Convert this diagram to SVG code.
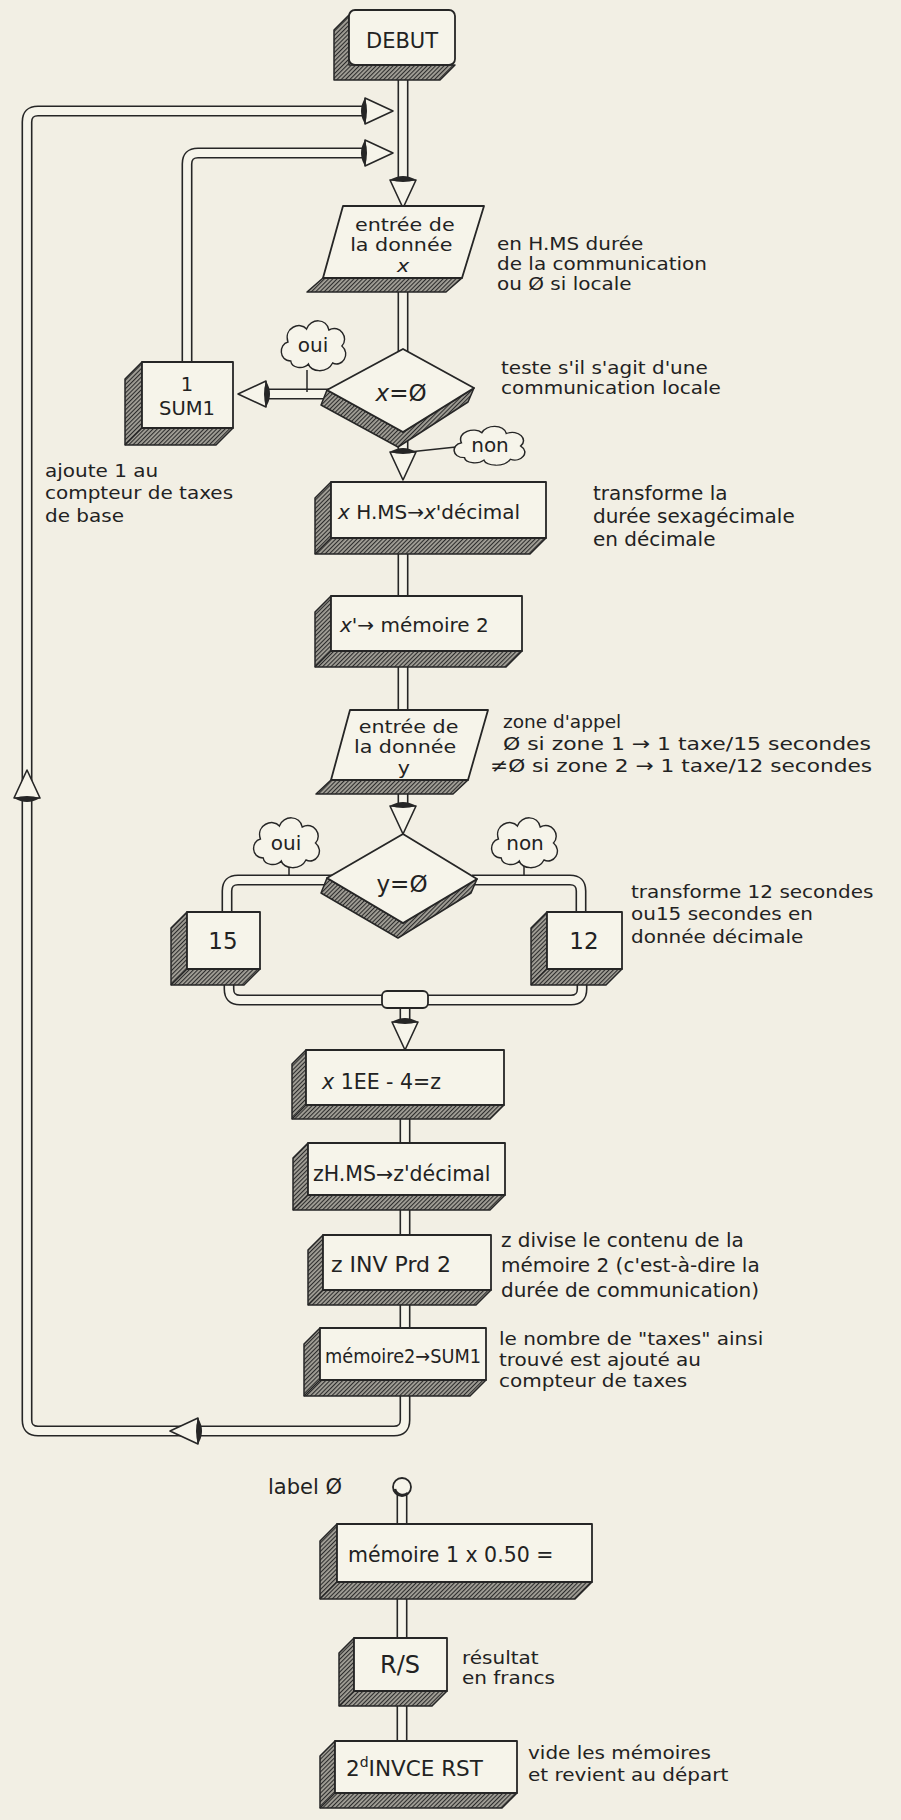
<svg xmlns="http://www.w3.org/2000/svg" xmlns:xlink="http://www.w3.org/1999/xlink" width="901" height="1820" viewBox="0 0 901 1820">
  <defs>
    <style>
      .face{fill:#f6f4ea;stroke:#262626;stroke-width:1.8;stroke-linejoin:round}
      .shade{fill:url(#hatch);stroke:#262626;stroke-width:1.5;stroke-linejoin:round}
      .edge{stroke:#262626;stroke-width:1.2;fill:none}
      .po{stroke:#262626;stroke-width:11;fill:none;stroke-linejoin:round}
      .pi{stroke:#f6f4ea;stroke-width:7.8;fill:none;stroke-linejoin:round}
      .stem{stroke:#262626;stroke-width:1.5;fill:none}
      .cloud{fill:#f6f4ea;stroke:#262626;stroke-width:1.5}
      .t{font-family:"DejaVu Sans","Liberation Sans",sans-serif;fill:#222}
      .c{text-anchor:middle}
    </style>
    <pattern id="hatch" patternUnits="userSpaceOnUse" width="3" height="3" patternTransform="rotate(45)">
      <rect width="3" height="3" fill="#a3a098"/>
      <line x1="0.5" y1="0" x2="0.5" y2="3" stroke="#2c2c2c" stroke-width="1.2"/>
    </pattern>
    <!-- cone arrowhead pointing along +x, base at origin -->
    <g id="cone">
      <path d="M0,-13 L28,0 L0,13 Z" fill="#f6f4ea" stroke="#262626" stroke-width="1.6" stroke-linejoin="round"/>
      <path d="M0,-13 Q-8,0 0,13 Q4,0 0,-13 Z" fill="#262626"/>
    </g>
    <path id="cloudShape" d="M-25,15 C-38,15 -38,-2 -28,-4 C-33,-18 -15,-25 -8,-17 C-4,-28 14,-28 16,-16 C28,-22 38,-8 30,0 C40,8 30,22 20,17 C14,28 -4,26 -6,18 C-12,24 -24,22 -25,15 Z"/>
  </defs>

  <rect width="901" height="1820" fill="#f2efe4"/>

  <!-- connectors: dark outer stroke, light inner stroke = hollow pipe -->
  <g id="connectors">
    <g class="po">
      <path d="M403,60 V190"/>
      <path d="M403,285 V352"/>
      <path d="M403,430 V462"/>
      <path d="M403,548 V599"/>
      <path d="M403,660 V713"/>
      <path d="M403,790 V816"/>
      <path d="M332,880 H238 Q227,880 227,891 V915"/>
      <path d="M472,880 H570 Q581,880 581,891 V915"/>
      <path d="M229,975 V989 Q229,1000 240,1000 H390"/>
      <path d="M582,975 V989 Q582,1000 571,1000 H420"/>
      <path d="M405,1005 V1028"/>
      <path d="M405,1110 V1146"/>
      <path d="M405,1205 V1238"/>
      <path d="M405,1300 V1331"/>
      <path d="M405,1390 V1420 Q405,1431 394,1431 H38 Q27,1431 27,1420 V122 Q27,111 38,111 H368"/>
      <path d="M187,365 V164 Q187,153 198,153 H368"/>
      <path d="M330,394 H262"/>
      <path d="M402,1494 V1526"/>
      <path d="M402,1590 V1640"/>
      <path d="M402,1700 V1744"/>
    </g>
    <g class="pi">
      <path d="M403,60 V190"/>
      <path d="M403,285 V352"/>
      <path d="M403,430 V462"/>
      <path d="M403,548 V599"/>
      <path d="M403,660 V713"/>
      <path d="M403,790 V816"/>
      <path d="M332,880 H238 Q227,880 227,891 V915"/>
      <path d="M472,880 H570 Q581,880 581,891 V915"/>
      <path d="M229,975 V989 Q229,1000 240,1000 H390"/>
      <path d="M582,975 V989 Q582,1000 571,1000 H420"/>
      <path d="M405,1005 V1028"/>
      <path d="M405,1110 V1146"/>
      <path d="M405,1205 V1238"/>
      <path d="M405,1300 V1331"/>
      <path d="M405,1390 V1420 Q405,1431 394,1431 H38 Q27,1431 27,1420 V122 Q27,111 38,111 H368"/>
      <path d="M187,365 V164 Q187,153 198,153 H368"/>
      <path d="M330,394 H262"/>
      <path d="M402,1494 V1526"/>
      <path d="M402,1590 V1640"/>
      <path d="M402,1700 V1744"/>
    </g>
    <!-- junction sleeve -->
    <rect x="382" y="991" width="46" height="17" rx="5" class="face"/>
    <!-- arrowheads -->
    <use xlink:href="#cone" transform="translate(365,111)"/>
    <use xlink:href="#cone" transform="translate(365,153)"/>
    <use xlink:href="#cone" transform="translate(403,180) rotate(90)"/>
    <use xlink:href="#cone" transform="translate(403,452) rotate(90)"/>
    <use xlink:href="#cone" transform="translate(403,806) rotate(90)"/>
    <use xlink:href="#cone" transform="translate(405,1022) rotate(90)"/>
    <use xlink:href="#cone" transform="translate(266,394) rotate(180)"/>
    <use xlink:href="#cone" transform="translate(198,1431) rotate(180)"/>
    <use xlink:href="#cone" transform="translate(27,798) rotate(-90)"/>
    <!-- label start knob -->
    <circle cx="402" cy="1487" r="9" fill="#f6f4ea" stroke="#262626" stroke-width="1.8"/>
    <path d="M395,1489 A8,8 0 0 0 408,1493" stroke="#262626" stroke-width="2.5" fill="none"/>
    <!-- cloud stems -->
    <path class="stem" d="M307,370 V392"/>
    <path class="stem" d="M409,452 L456,447"/>
    <path class="stem" d="M289,866 V876"/>
    <path class="stem" d="M524,866 V876"/>
  </g>

  <g id="debut">
    <path class="shade" d="M349,15 L334,30 L334,80 L440,80 L455,65 L349,65 Z"/>
    <rect class="face" x="349" y="10" width="106" height="55" rx="6"/>
    <text class="t c" x="402" y="48" font-size="21">DEBUT</text>
  </g>

  <g id="entree-x">
    <path class="shade" d="M323,278 L307,292 L446,292 L462,278 Z"/>
    <path class="face" d="M343,206 L484,206 L462,278 L323,278 Z"/>
    <text class="t c" font-size="17.5" transform="translate(403,231) scale(1.18,1)"><tspan x="1.5" y="0">entrée de</tspan><tspan x="-1.5" dy="20.5">la donnée</tspan><tspan x="0" dy="20.5" font-style="italic">x</tspan></text>
  </g>

  <g id="test-x">
    <path class="shade" d="M327,390 L403,432 L474,388 L468,402 L398,447 L321,405 Z"/>
    <path class="face" d="M403,349 L474,388 L403,432 L327,390 Z"/>
    <text class="t c" x="401" y="401" font-size="23"><tspan font-style="italic">x</tspan>=Ø</text>
  </g>

  <g id="oui-1">
    <use xlink:href="#cloudShape" class="cloud" transform="translate(314,346) scale(0.93,1.0)"/>
    <text class="t c" x="313" y="352" font-size="20">oui</text>
  </g>

  <g id="non-1">
    <use xlink:href="#cloudShape" class="cloud" transform="translate(490,446) scale(1.02,0.78)"/>
    <text class="t c" x="490" y="452" font-size="20">non</text>
  </g>

  <g id="sum1">
    <path class="shade" d="M142,362 L125,379 L125,445 L216,445 L233,428 L142,428 Z"/>
    <rect class="face" x="142" y="362" width="91" height="66"/>
    <line class="edge" x1="142" y1="428" x2="125" y2="445"/>
    <text class="t c" font-size="19.5"><tspan x="187" y="391">1</tspan><tspan x="187" dy="23.5">SUM1</tspan></text>
  </g>

  <g id="hms-x">
    <path class="shade" d="M331,482 L315,498 L315,554 L530,554 L546,538 L331,538 Z"/>
    <rect class="face" x="331" y="482" width="215" height="56"/>
    <line class="edge" x1="331" y1="538" x2="315" y2="554"/>
    <text class="t" x="338" y="519" font-size="20"><tspan font-style="italic">x</tspan> H.MS→<tspan font-style="italic">x</tspan>'décimal</text>
  </g>

  <g id="memoire2">
    <path class="shade" d="M331,596 L315,612 L315,667 L506,667 L522,651 L331,651 Z"/>
    <rect class="face" x="331" y="596" width="191" height="55"/>
    <line class="edge" x1="331" y1="651" x2="315" y2="667"/>
    <text class="t" x="340" y="632" font-size="20"><tspan font-style="italic">x</tspan>'→ mémoire 2</text>
  </g>

  <g id="entree-y">
    <path class="shade" d="M331,780 L316,794 L453,794 L468,780 Z"/>
    <path class="face" d="M350,710 L488,710 L468,780 L331,780 Z"/>
    <text class="t c" font-size="17.5" transform="translate(405,733) scale(1.18,1)"><tspan x="3" y="0">entrée de</tspan><tspan x="0" dy="20.5">la donnée</tspan><tspan x="-1" dy="20.5">y</tspan></text>
  </g>

  <g id="test-y">
    <path class="shade" d="M327,878 L403,923 L477,879 L471,893 L398,938 L321,893 Z"/>
    <path class="face" d="M403,834 L477,879 L403,923 L327,878 Z"/>
    <text class="t c" x="402" y="892" font-size="23">y=Ø</text>
  </g>

  <g id="oui-2">
    <use xlink:href="#cloudShape" class="cloud" transform="translate(287,843) scale(0.95,1.0)"/>
    <text class="t c" x="286" y="850" font-size="20">oui</text>
  </g>

  <g id="non-2">
    <use xlink:href="#cloudShape" class="cloud" transform="translate(525,843) scale(0.95,1.0)"/>
    <text class="t c" x="525" y="850" font-size="20">non</text>
  </g>

  <g id="box-15">
    <path class="shade" d="M187,912 L171,928 L171,985 L244,985 L260,969 L187,969 Z"/>
    <rect class="face" x="187" y="912" width="73" height="57"/>
    <line class="edge" x1="187" y1="969" x2="171" y2="985"/>
    <text class="t c" x="223" y="949" font-size="23">15</text>
  </g>

  <g id="box-12">
    <path class="shade" d="M547,912 L531,928 L531,985 L606,985 L622,969 L547,969 Z"/>
    <rect class="face" x="547" y="912" width="75" height="57"/>
    <line class="edge" x1="547" y1="969" x2="531" y2="985"/>
    <text class="t c" x="584" y="949" font-size="23">12</text>
  </g>

  <g id="scale-z">
    <path class="shade" d="M306,1050 L292,1064 L292,1119 L490,1119 L504,1105 L306,1105 Z"/>
    <rect class="face" x="306" y="1050" width="198" height="55"/>
    <line class="edge" x1="306" y1="1105" x2="292" y2="1119"/>
    <text class="t" x="322" y="1089" font-size="20.5"><tspan font-style="italic">x</tspan> 1EE - 4=z</text>
  </g>

  <g id="hms-z">
    <path class="shade" d="M308,1143 L293,1158 L293,1210 L490,1210 L505,1195 L308,1195 Z"/>
    <rect class="face" x="308" y="1143" width="197" height="52"/>
    <line class="edge" x1="308" y1="1195" x2="293" y2="1210"/>
    <text class="t" x="313" y="1181" font-size="20.5">zH.MS→z'décimal</text>
  </g>

  <g id="inv-prd">
    <path class="shade" d="M323,1235 L308,1250 L308,1305 L476,1305 L491,1290 L323,1290 Z"/>
    <rect class="face" x="323" y="1235" width="168" height="55"/>
    <line class="edge" x1="323" y1="1290" x2="308" y2="1305"/>
    <text class="t" x="331" y="1272" font-size="22">z INV Prd 2</text>
  </g>

  <g id="sum-plus">
    <path class="shade" d="M320,1328 L304,1344 L304,1396 L470,1396 L486,1380 L320,1380 Z"/>
    <rect class="face" x="320" y="1328" width="166" height="52"/>
    <line class="edge" x1="320" y1="1380" x2="304" y2="1396"/>
    <text class="t" x="325" y="1363" font-size="19.5" textLength="156" lengthAdjust="spacingAndGlyphs">mémoire2→SUM1</text>
  </g>

  <g id="cost">
    <path class="shade" d="M337,1524 L320,1541 L320,1599 L575,1599 L592,1582 L337,1582 Z"/>
    <rect class="face" x="337" y="1524" width="255" height="58"/>
    <line class="edge" x1="337" y1="1582" x2="320" y2="1599"/>
    <text class="t" x="348" y="1562" font-size="20.5">mémoire 1 x 0.50 =</text>
  </g>

  <g id="run-stop">
    <path class="shade" d="M354,1638 L339,1653 L339,1706 L432,1706 L447,1691 L354,1691 Z"/>
    <rect class="face" x="354" y="1638" width="93" height="53"/>
    <line class="edge" x1="354" y1="1691" x2="339" y2="1706"/>
    <text class="t c" x="400" y="1673" font-size="24">R/S</text>
  </g>

  <g id="reset">
    <path class="shade" d="M335,1741 L320,1756 L320,1808 L502,1808 L517,1793 L335,1793 Z"/>
    <rect class="face" x="335" y="1741" width="182" height="52"/>
    <line class="edge" x1="335" y1="1793" x2="320" y2="1808"/>
    <text class="t" x="346" y="1776" font-size="21.5">2<tspan font-size="14" dy="-9">d</tspan><tspan dy="9">INVCE RST</tspan></text>
  </g>

  <!-- notes: short glyphs widened horizontally, as in the hand lettering -->
  <g id="notes" class="t" font-size="20">
    <text font-size="17" transform="translate(497,250) scale(1.176,1)"><tspan x="0" y="0">en H.MS durée</tspan><tspan x="0" dy="20">de la communication</tspan><tspan x="0" dy="20">ou Ø si locale</tspan></text>

    <text font-size="17" transform="translate(501,374) scale(1.176,1)"><tspan x="0" y="0">teste s'il s'agit d'une</tspan><tspan x="0" dy="20">communication locale</tspan></text>

    <text font-size="18.5" transform="translate(45,477) scale(1.081,1)"><tspan x="0" y="0">ajoute 1 au</tspan><tspan x="0" dy="22">compteur de taxes</tspan><tspan x="0" dy="23">de base</tspan></text>

    <text font-size="19" transform="translate(593,500) scale(1.053,1)"><tspan x="0" y="0">transforme la</tspan><tspan x="0" dy="23">durée sexagécimale</tspan><tspan x="0" dy="23">en décimale</tspan></text>

    <text font-size="18.5"><tspan x="503" y="728">zone d'appel</tspan><tspan x="503" dy="22" textLength="368" lengthAdjust="spacingAndGlyphs">Ø si zone 1 → 1 taxe/15 secondes</tspan><tspan x="490" dy="22" textLength="382" lengthAdjust="spacingAndGlyphs">≠Ø si zone 2 → 1 taxe/12 secondes</tspan></text>

    <text font-size="18.5" transform="translate(631,898) scale(1.081,1)"><tspan x="0" y="0">transforme 12 secondes</tspan><tspan x="0" dy="22">ou15 secondes en</tspan><tspan x="0" dy="23">donnée décimale</tspan></text>

    <text><tspan x="501" y="1247">z divise le contenu de la</tspan><tspan x="501" dy="25">mémoire 2 (c'est-à-dire la</tspan><tspan x="501" dy="25">durée de communication)</tspan></text>

    <text font-size="17.5" transform="translate(499,1345) scale(1.143,1)"><tspan x="0" y="0">le nombre de "taxes" ainsi</tspan><tspan x="0" dy="21">trouvé est ajouté au</tspan><tspan x="0" dy="21">compteur de taxes</tspan></text>

    <text x="268" y="1494" font-size="21">label Ø</text>

    <text font-size="17" transform="translate(462,1664) scale(1.176,1)"><tspan x="0" y="0">résultat</tspan><tspan x="0" dy="20">en francs</tspan></text>

    <text font-size="18.5" transform="translate(528,1759) scale(1.081,1)"><tspan x="0" y="0">vide les mémoires</tspan><tspan x="0" dy="22">et revient au départ</tspan></text>
  </g>
</svg>
